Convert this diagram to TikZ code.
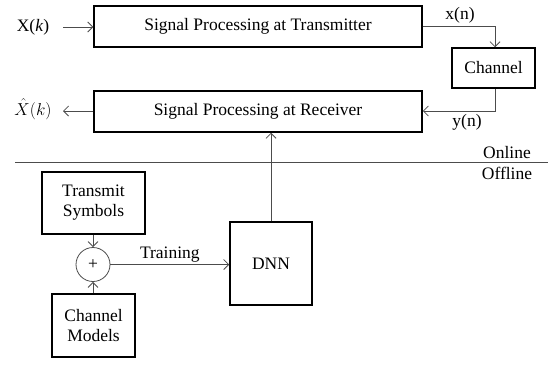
\documentclass[tikz,border=0pt]{standalone}
\usepackage{fontspec}
\setmainfont{Liberation Serif}
\usetikzlibrary{arrows.meta}
\begin{document}
\begin{tikzpicture}[x=1pt,y=-1pt,
  box/.style={draw, line width=1.5pt, inner sep=0pt},
  conn/.style={draw=black!70, line width=0.8pt, -{Straight Barb[length=5pt,width=10pt,line width=0.8pt]}},
  plain/.style={draw=black!70, line width=0.8pt},
  lbl/.style={inner sep=1pt},
  every node/.style={font=\fontsize{17.5}{20}\selectfont}]
\useasboundingbox (0,0) rectangle (551,364);
% online part
\node[box, minimum width=328pt, minimum height=41pt] (tx) at (258,26.5) {Signal Processing at Transmitter};
\node[box, minimum width=328pt, minimum height=41pt] (rx) at (258,111.5) {Signal Processing at Receiver};
\node[box, minimum width=83pt, minimum height=40pt] (ch) at (493.5,68) {Channel};
\node[lbl, anchor=center] (xk) at (33,27) {X(\textit{k})};
\node[lbl, anchor=center, font=\fontsize{19}{22}\selectfont] (xhat) at (33,109) {$\hat{X}(k)$};
\coordinate (xkend) at (63,27);
\coordinate (xhatend) at (63,111);
\draw[conn] (xkend) -- (tx.west |- xkend);
\draw[conn] (rx.west |- xhatend) -- (xhatend);
\coordinate (c1) at (495,26);
\draw[conn] (tx.east |- c1) -- (c1) -- (c1 |- ch.north);
\coordinate (c2) at (495,111);
\draw[conn] (c2 |- ch.south) -- (c2) -- (rx.east |- c2);
\node[lbl] (xn) at (460,15) {x(n)};
\node[lbl] (yn) at (467,122) {y(n)};
% divider
\coordinate (dl) at (15,162);
\coordinate (dr) at (548,162);
\draw[plain] (dl) -- (dr);
\node[lbl] (on) at (507,153) {Online};
\node[lbl] (off) at (507,173) {Offline};
% offline part
\node[box, minimum width=82pt, minimum height=83pt] (dnn) at (271,263.5) {DNN};
\node[box, minimum width=103pt, minimum height=62pt, align=center] (ts) at (93.5,203) {Transmit\\Symbols};
\node[box, minimum width=83pt, minimum height=63pt, align=center] (cm) at (93.5,325.5) {Channel\\Models};
\node[draw=black!70, line width=0.8pt, circle, minimum size=34pt, inner sep=0pt] (sum) at (93,264.5) {+};
\draw[conn] (ts.south -| sum) -- (sum.north);
\draw[conn] (cm.north -| sum) -- (sum.south);
\draw[conn] (sum.east) -- node[above=1pt, lbl] (tr) {Training} (dnn.west |- sum);
\draw[conn] (dnn.north) -- (rx.south -| dnn);
\end{tikzpicture}
\end{document}
